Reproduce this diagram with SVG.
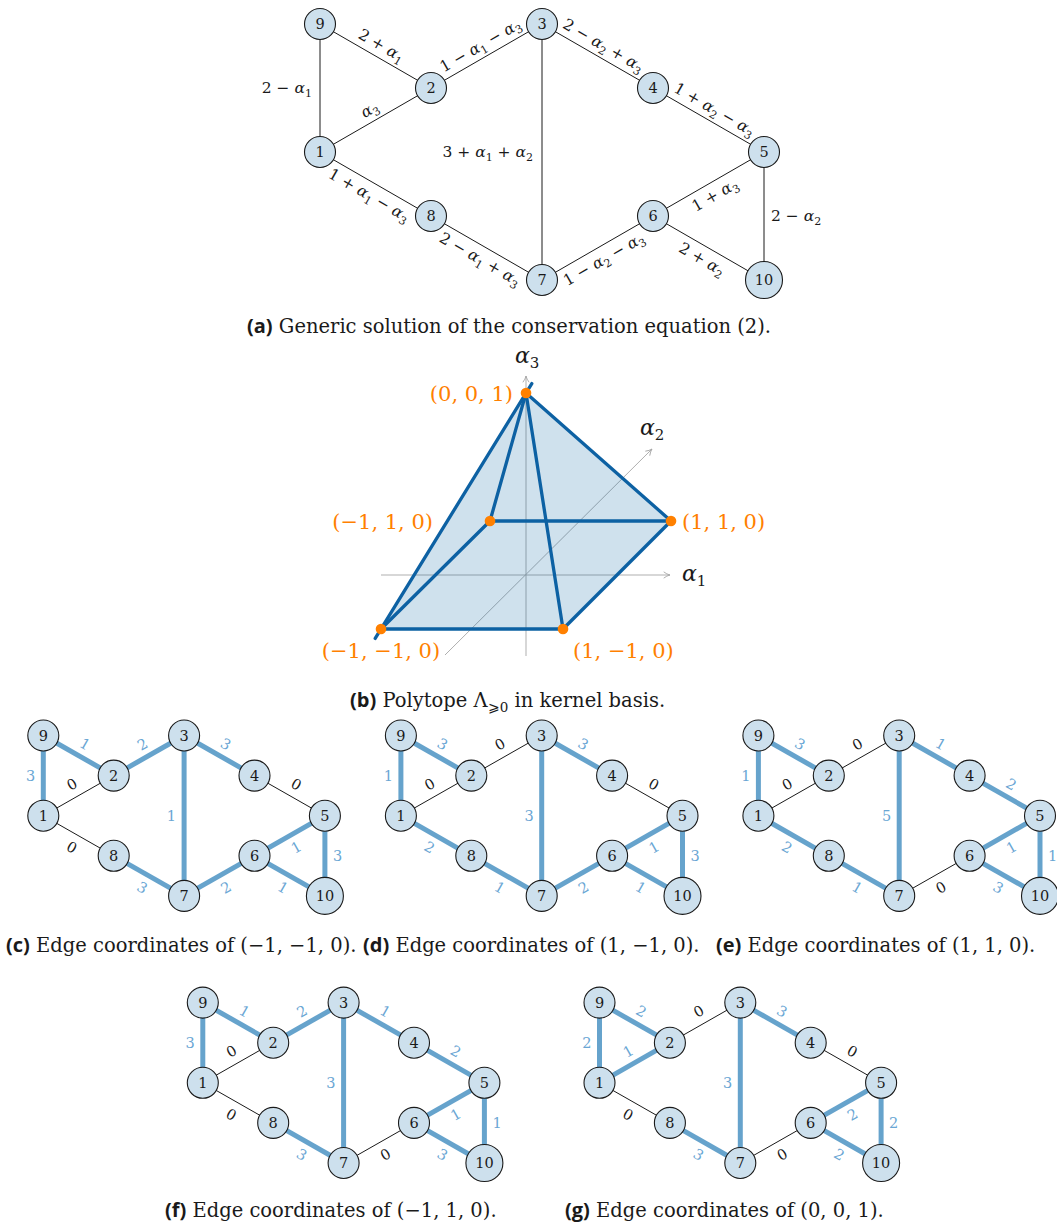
<svg xmlns="http://www.w3.org/2000/svg" width="1057" height="1225" viewBox="0 0 1057 1225" font-family="DejaVu Serif, Liberation Serif, serif">
<style>
text{font-family:"DejaVu Serif","Liberation Serif",serif}
.e{stroke:#1a1a1a;stroke-width:1;fill:none}
.t{stroke:#66a3cc;stroke-width:5;fill:none}
.n circle{fill:#cde0ed;stroke:#1a1a1a;stroke-width:1.1}
.n text{font-size:14.5px;text-anchor:middle;fill:#1a1a1a}
.la{font-size:15.5px;fill:#1a1a1a;text-anchor:middle}
.lb,.l0{font-size:14.5px;text-anchor:middle}
.lb{fill:#6aa6d4}
.l0{fill:#1a1a1a}
.it{font-style:italic}
.cap{font-size:19.5px;fill:#1a1a1a}
.cb{font-family:"Open Sans","DejaVu Sans",sans-serif;font-weight:700;font-size:20px}
.or{font-size:21px;fill:#ff8000}
.ax{font-size:22px;fill:#1a1a1a}
</style>
<defs>
<marker id="ar" viewBox="0 0 10 10" refX="9" refY="5" markerWidth="9" markerHeight="9" orient="auto" markerUnits="userSpaceOnUse">
<path d="M2,1.5 Q5.5,4.2 9,5 Q5.5,5.8 2,8.5" fill="none" stroke="#a6a6a6" stroke-width="1"/>
</marker>
</defs>

<!-- Panel (a) -->
<g id="panel-a" transform="translate(320,24)">
<g id="a-connectors">
<line class="e" x1="0" y1="0" x2="0" y2="128"/>
<line class="e" x1="0" y1="0" x2="111" y2="64"/>
<line class="e" x1="0" y1="128" x2="111" y2="64"/>
<line class="e" x1="111" y1="64" x2="222" y2="0"/>
<line class="e" x1="0" y1="128" x2="111" y2="192"/>
<line class="e" x1="111" y1="192" x2="222" y2="256"/>
<line class="e" x1="222" y1="0" x2="222" y2="256"/>
<line class="e" x1="222" y1="0" x2="333" y2="64"/>
<line class="e" x1="333" y1="64" x2="444" y2="128"/>
<line class="e" x1="333" y1="192" x2="444" y2="128"/>
<line class="e" x1="222" y1="256" x2="333" y2="192"/>
<line class="e" x1="444" y1="128" x2="444" y2="256"/>
<line class="e" x1="333" y1="192" x2="444" y2="256"/>
<text class="la" x="-8" y="69" style="text-anchor:end">2 − <tspan class="it">α</tspan><tspan dy="4" font-size="11">1</tspan></text>
<text class="la" transform="translate(55.5,32) rotate(29.97)" y="-7">2 + <tspan class="it">α</tspan><tspan dy="4" font-size="11">1</tspan></text>
<text class="la" transform="translate(55.5,96) rotate(-29.97)" y="-7"><tspan class="it">α</tspan><tspan dy="4" font-size="11">3</tspan></text>
<text class="la" transform="translate(166.5,32) rotate(-29.97)" y="-7">1 − <tspan class="it">α</tspan><tspan dy="4" font-size="11">1</tspan><tspan dy="-4"> − </tspan><tspan class="it">α</tspan><tspan dy="4" font-size="11">3</tspan></text>
<text class="la" transform="translate(55.5,160) rotate(29.97)" y="18">1 + <tspan class="it">α</tspan><tspan dy="4" font-size="11">1</tspan><tspan dy="-4"> − </tspan><tspan class="it">α</tspan><tspan dy="4" font-size="11">3</tspan></text>
<text class="la" transform="translate(166.5,224) rotate(29.97)" y="18">2 − <tspan class="it">α</tspan><tspan dy="4" font-size="11">1</tspan><tspan dy="-4"> + </tspan><tspan class="it">α</tspan><tspan dy="4" font-size="11">3</tspan></text>
<text class="la" x="213" y="133" style="text-anchor:end">3 + <tspan class="it">α</tspan><tspan dy="4" font-size="11">1</tspan><tspan dy="-4"> + </tspan><tspan class="it">α</tspan><tspan dy="4" font-size="11">2</tspan></text>
<text class="la" transform="translate(277.5,32) rotate(29.97)" y="-7">2 − <tspan class="it">α</tspan><tspan dy="4" font-size="11">2</tspan><tspan dy="-4"> + </tspan><tspan class="it">α</tspan><tspan dy="4" font-size="11">3</tspan></text>
<text class="la" transform="translate(388.5,96) rotate(29.97)" y="-7">1 + <tspan class="it">α</tspan><tspan dy="4" font-size="11">2</tspan><tspan dy="-4"> − </tspan><tspan class="it">α</tspan><tspan dy="4" font-size="11">3</tspan></text>
<text class="la" transform="translate(388.5,160) rotate(-29.97)" y="18">1 + <tspan class="it">α</tspan><tspan dy="4" font-size="11">3</tspan></text>
<text class="la" transform="translate(277.5,224) rotate(-29.97)" y="18">1 − <tspan class="it">α</tspan><tspan dy="4" font-size="11">2</tspan><tspan dy="-4"> − </tspan><tspan class="it">α</tspan><tspan dy="4" font-size="11">3</tspan></text>
<text class="la" x="451" y="197" style="text-anchor:start">2 − <tspan class="it">α</tspan><tspan dy="4" font-size="11">2</tspan></text>
<text class="la" transform="translate(388.5,224) rotate(29.97)" y="18">2 + <tspan class="it">α</tspan><tspan dy="4" font-size="11">2</tspan></text>
</g>
<g id="a-n9" class="n"><circle cx="0" cy="0" r="15.5"/><text x="0" y="5.3">9</text></g>
<g id="a-n1" class="n"><circle cx="0" cy="128" r="15.5"/><text x="0" y="133.3">1</text></g>
<g id="a-n2" class="n"><circle cx="111" cy="64" r="15.5"/><text x="111" y="69.3">2</text></g>
<g id="a-n8" class="n"><circle cx="111" cy="192" r="15.5"/><text x="111" y="197.3">8</text></g>
<g id="a-n3" class="n"><circle cx="222" cy="0" r="15.5"/><text x="222" y="5.3">3</text></g>
<g id="a-n7" class="n"><circle cx="222" cy="256" r="15.5"/><text x="222" y="261.3">7</text></g>
<g id="a-n4" class="n"><circle cx="333" cy="64" r="15.5"/><text x="333" y="69.3">4</text></g>
<g id="a-n6" class="n"><circle cx="333" cy="192" r="15.5"/><text x="333" y="197.3">6</text></g>
<g id="a-n5" class="n"><circle cx="444" cy="128" r="15.5"/><text x="444" y="133.3">5</text></g>
<g id="a-n10" class="n"><circle cx="444" cy="256" r="18.5"/><text x="444" y="261.3">10</text></g>
</g>
<text class="cap" x="247" y="333"><tspan class="cb">(a)</tspan> Generic solution of the conservation equation (2).</text>

<!-- Panel (b) -->
<g id="panel-b">
<g id="b-axes" stroke="#a6a6a6" stroke-width="0.9" fill="none">
<line x1="381" y1="575" x2="670" y2="575" marker-end="url(#ar)"/>
<line x1="445" y1="655" x2="652" y2="449" marker-end="url(#ar)"/>
<line x1="526" y1="656" x2="526" y2="376" marker-end="url(#ar)"/>
</g>
<polygon id="b-fill" points="526,393 671,521 563,629 381,629" fill="#0060a0" fill-opacity="0.19"/>
<g id="b-edges" stroke="#0d61a3" stroke-width="3.3" stroke-linecap="round" fill="none">
<line x1="375.2" y1="638.4" x2="531.8" y2="383.6"/>
<line x1="526" y1="393" x2="490" y2="521"/>
<line x1="526" y1="393" x2="563" y2="629"/>
<line x1="526" y1="393" x2="671" y2="521"/>
<line x1="490" y1="521" x2="671" y2="521"/>
<line x1="490" y1="521" x2="381" y2="629"/>
<line x1="381" y1="629" x2="563" y2="629"/>
<line x1="563" y1="629" x2="671" y2="521"/>
</g>
<g id="b-v001"><circle cx="526" cy="393" r="5.3" fill="#ff8000"/><text class="or" x="513" y="401" text-anchor="end">(0, 0, 1)</text></g>
<g id="b-vm110"><circle cx="490" cy="521" r="5.3" fill="#ff8000"/><text class="or" x="433" y="529" text-anchor="end">(−1, 1, 0)</text></g>
<g id="b-v110"><circle cx="671" cy="521" r="5.3" fill="#ff8000"/><text class="or" x="682" y="529">(1, 1, 0)</text></g>
<g id="b-vmm10"><circle cx="381" cy="629" r="5.3" fill="#ff8000"/><text class="or" x="381" y="658" text-anchor="middle">(−1, −1, 0)</text></g>
<g id="b-v1m10"><circle cx="563" cy="629" r="5.3" fill="#ff8000"/><text class="or" x="573" y="658">(1, −1, 0)</text></g>
<text class="ax" x="515" y="363"><tspan class="it">α</tspan><tspan dy="5" font-size="15">3</tspan></text>
<text class="ax" x="640" y="435"><tspan class="it">α</tspan><tspan dy="5" font-size="15">2</tspan></text>
<text class="ax" x="682" y="581"><tspan class="it">α</tspan><tspan dy="5" font-size="15">1</tspan></text>
</g>
<text class="cap" x="350" y="707"><tspan class="cb">(b)</tspan> Polytope Λ<tspan dy="5" font-size="13.5">⩾0</tspan><tspan dy="-5"> in kernel basis.</tspan></text>

<!-- Panel (c) -->
<g id="panel-c" transform="translate(43.3,735.5)">
<g id="c-connectors">
<line class="t" x1="0" y1="0" x2="0" y2="80.2"/>
<line class="t" x1="0" y1="0" x2="70.4" y2="40.1"/>
<line class="e" x1="0" y1="80.2" x2="70.4" y2="40.1"/>
<line class="t" x1="70.4" y1="40.1" x2="140.8" y2="0"/>
<line class="e" x1="0" y1="80.2" x2="70.4" y2="120.3"/>
<line class="t" x1="70.4" y1="120.3" x2="140.8" y2="160.4"/>
<line class="t" x1="140.8" y1="0" x2="140.8" y2="160.4"/>
<line class="t" x1="140.8" y1="0" x2="211.2" y2="40.1"/>
<line class="e" x1="211.2" y1="40.1" x2="281.6" y2="80.2"/>
<line class="t" x1="211.2" y1="120.3" x2="281.6" y2="80.2"/>
<line class="t" x1="140.8" y1="160.4" x2="211.2" y2="120.3"/>
<line class="t" x1="281.6" y1="80.2" x2="281.6" y2="160.4"/>
<line class="t" x1="211.2" y1="120.3" x2="281.6" y2="160.4"/>
<text class="lb" x="-8" y="45.5" style="text-anchor:end">3</text>
<text class="lb" transform="translate(35.2,20.05) rotate(29.67)" y="-8">1</text>
<text class="l0" transform="translate(35.2,60.15) rotate(-29.67)" y="-8">0</text>
<text class="lb" transform="translate(105.6,20.05) rotate(-29.67)" y="-8">2</text>
<text class="l0" transform="translate(35.2,100.25) rotate(29.67)" y="18.5">0</text>
<text class="lb" transform="translate(105.6,140.35) rotate(29.67)" y="18.5">3</text>
<text class="lb" x="132.8" y="85.7" style="text-anchor:end">1</text>
<text class="lb" transform="translate(176,20.05) rotate(29.67)" y="-8">3</text>
<text class="l0" transform="translate(246.4,60.15) rotate(29.67)" y="-8">0</text>
<text class="lb" transform="translate(246.4,100.25) rotate(-29.67)" y="18.5">1</text>
<text class="lb" transform="translate(176,140.35) rotate(-29.67)" y="18.5">2</text>
<text class="lb" x="289.6" y="125.8" style="text-anchor:start">3</text>
<text class="lb" transform="translate(246.4,140.35) rotate(29.67)" y="18.5">1</text>
</g>
<g id="c-n9" class="n"><circle cx="0" cy="0" r="15.5"/><text x="0" y="5.3">9</text></g>
<g id="c-n1" class="n"><circle cx="0" cy="80.2" r="15.5"/><text x="0" y="85.5">1</text></g>
<g id="c-n2" class="n"><circle cx="70.4" cy="40.1" r="15.5"/><text x="70.4" y="45.4">2</text></g>
<g id="c-n8" class="n"><circle cx="70.4" cy="120.3" r="15.5"/><text x="70.4" y="125.6">8</text></g>
<g id="c-n3" class="n"><circle cx="140.8" cy="0" r="15.5"/><text x="140.8" y="5.3">3</text></g>
<g id="c-n7" class="n"><circle cx="140.8" cy="160.4" r="15.5"/><text x="140.8" y="165.7">7</text></g>
<g id="c-n4" class="n"><circle cx="211.2" cy="40.1" r="15.5"/><text x="211.2" y="45.4">4</text></g>
<g id="c-n6" class="n"><circle cx="211.2" cy="120.3" r="15.5"/><text x="211.2" y="125.6">6</text></g>
<g id="c-n5" class="n"><circle cx="281.6" cy="80.2" r="15.5"/><text x="281.6" y="85.5">5</text></g>
<g id="c-n10" class="n"><circle cx="281.6" cy="160.4" r="18.5"/><text x="281.6" y="165.7">10</text></g>
</g>
<text class="cap" x="6" y="952"><tspan class="cb">(c)</tspan> Edge coordinates of (−1, −1, 0).</text>

<!-- Panel (d) -->
<g id="panel-d" transform="translate(400.9,735.5)">
<g id="d-connectors">
<line class="t" x1="0" y1="0" x2="0" y2="80.2"/>
<line class="t" x1="0" y1="0" x2="70.4" y2="40.1"/>
<line class="e" x1="0" y1="80.2" x2="70.4" y2="40.1"/>
<line class="e" x1="70.4" y1="40.1" x2="140.8" y2="0"/>
<line class="t" x1="0" y1="80.2" x2="70.4" y2="120.3"/>
<line class="t" x1="70.4" y1="120.3" x2="140.8" y2="160.4"/>
<line class="t" x1="140.8" y1="0" x2="140.8" y2="160.4"/>
<line class="t" x1="140.8" y1="0" x2="211.2" y2="40.1"/>
<line class="e" x1="211.2" y1="40.1" x2="281.6" y2="80.2"/>
<line class="t" x1="211.2" y1="120.3" x2="281.6" y2="80.2"/>
<line class="t" x1="140.8" y1="160.4" x2="211.2" y2="120.3"/>
<line class="t" x1="281.6" y1="80.2" x2="281.6" y2="160.4"/>
<line class="t" x1="211.2" y1="120.3" x2="281.6" y2="160.4"/>
<text class="lb" x="-8" y="45.5" style="text-anchor:end">1</text>
<text class="lb" transform="translate(35.2,20.05) rotate(29.67)" y="-8">3</text>
<text class="l0" transform="translate(35.2,60.15) rotate(-29.67)" y="-8">0</text>
<text class="l0" transform="translate(105.6,20.05) rotate(-29.67)" y="-8">0</text>
<text class="lb" transform="translate(35.2,100.25) rotate(29.67)" y="18.5">2</text>
<text class="lb" transform="translate(105.6,140.35) rotate(29.67)" y="18.5">1</text>
<text class="lb" x="132.8" y="85.7" style="text-anchor:end">3</text>
<text class="lb" transform="translate(176,20.05) rotate(29.67)" y="-8">3</text>
<text class="l0" transform="translate(246.4,60.15) rotate(29.67)" y="-8">0</text>
<text class="lb" transform="translate(246.4,100.25) rotate(-29.67)" y="18.5">1</text>
<text class="lb" transform="translate(176,140.35) rotate(-29.67)" y="18.5">2</text>
<text class="lb" x="289.6" y="125.8" style="text-anchor:start">3</text>
<text class="lb" transform="translate(246.4,140.35) rotate(29.67)" y="18.5">1</text>
</g>
<g id="d-n9" class="n"><circle cx="0" cy="0" r="15.5"/><text x="0" y="5.3">9</text></g>
<g id="d-n1" class="n"><circle cx="0" cy="80.2" r="15.5"/><text x="0" y="85.5">1</text></g>
<g id="d-n2" class="n"><circle cx="70.4" cy="40.1" r="15.5"/><text x="70.4" y="45.4">2</text></g>
<g id="d-n8" class="n"><circle cx="70.4" cy="120.3" r="15.5"/><text x="70.4" y="125.6">8</text></g>
<g id="d-n3" class="n"><circle cx="140.8" cy="0" r="15.5"/><text x="140.8" y="5.3">3</text></g>
<g id="d-n7" class="n"><circle cx="140.8" cy="160.4" r="15.5"/><text x="140.8" y="165.7">7</text></g>
<g id="d-n4" class="n"><circle cx="211.2" cy="40.1" r="15.5"/><text x="211.2" y="45.4">4</text></g>
<g id="d-n6" class="n"><circle cx="211.2" cy="120.3" r="15.5"/><text x="211.2" y="125.6">6</text></g>
<g id="d-n5" class="n"><circle cx="281.6" cy="80.2" r="15.5"/><text x="281.6" y="85.5">5</text></g>
<g id="d-n10" class="n"><circle cx="281.6" cy="160.4" r="18.5"/><text x="281.6" y="165.7">10</text></g>
</g>
<text class="cap" x="363" y="952"><tspan class="cb">(d)</tspan> Edge coordinates of (1, −1, 0).</text>

<!-- Panel (e) -->
<g id="panel-e" transform="translate(758.4,735.5)">
<g id="e-connectors">
<line class="t" x1="0" y1="0" x2="0" y2="80.2"/>
<line class="t" x1="0" y1="0" x2="70.4" y2="40.1"/>
<line class="e" x1="0" y1="80.2" x2="70.4" y2="40.1"/>
<line class="e" x1="70.4" y1="40.1" x2="140.8" y2="0"/>
<line class="t" x1="0" y1="80.2" x2="70.4" y2="120.3"/>
<line class="t" x1="70.4" y1="120.3" x2="140.8" y2="160.4"/>
<line class="t" x1="140.8" y1="0" x2="140.8" y2="160.4"/>
<line class="t" x1="140.8" y1="0" x2="211.2" y2="40.1"/>
<line class="t" x1="211.2" y1="40.1" x2="281.6" y2="80.2"/>
<line class="t" x1="211.2" y1="120.3" x2="281.6" y2="80.2"/>
<line class="e" x1="140.8" y1="160.4" x2="211.2" y2="120.3"/>
<line class="t" x1="281.6" y1="80.2" x2="281.6" y2="160.4"/>
<line class="t" x1="211.2" y1="120.3" x2="281.6" y2="160.4"/>
<text class="lb" x="-8" y="45.5" style="text-anchor:end">1</text>
<text class="lb" transform="translate(35.2,20.05) rotate(29.67)" y="-8">3</text>
<text class="l0" transform="translate(35.2,60.15) rotate(-29.67)" y="-8">0</text>
<text class="l0" transform="translate(105.6,20.05) rotate(-29.67)" y="-8">0</text>
<text class="lb" transform="translate(35.2,100.25) rotate(29.67)" y="18.5">2</text>
<text class="lb" transform="translate(105.6,140.35) rotate(29.67)" y="18.5">1</text>
<text class="lb" x="132.8" y="85.7" style="text-anchor:end">5</text>
<text class="lb" transform="translate(176,20.05) rotate(29.67)" y="-8">1</text>
<text class="lb" transform="translate(246.4,60.15) rotate(29.67)" y="-8">2</text>
<text class="lb" transform="translate(246.4,100.25) rotate(-29.67)" y="18.5">1</text>
<text class="l0" transform="translate(176,140.35) rotate(-29.67)" y="18.5">0</text>
<text class="lb" x="289.6" y="125.8" style="text-anchor:start">1</text>
<text class="lb" transform="translate(246.4,140.35) rotate(29.67)" y="18.5">3</text>
</g>
<g id="e-n9" class="n"><circle cx="0" cy="0" r="15.5"/><text x="0" y="5.3">9</text></g>
<g id="e-n1" class="n"><circle cx="0" cy="80.2" r="15.5"/><text x="0" y="85.5">1</text></g>
<g id="e-n2" class="n"><circle cx="70.4" cy="40.1" r="15.5"/><text x="70.4" y="45.4">2</text></g>
<g id="e-n8" class="n"><circle cx="70.4" cy="120.3" r="15.5"/><text x="70.4" y="125.6">8</text></g>
<g id="e-n3" class="n"><circle cx="140.8" cy="0" r="15.5"/><text x="140.8" y="5.3">3</text></g>
<g id="e-n7" class="n"><circle cx="140.8" cy="160.4" r="15.5"/><text x="140.8" y="165.7">7</text></g>
<g id="e-n4" class="n"><circle cx="211.2" cy="40.1" r="15.5"/><text x="211.2" y="45.4">4</text></g>
<g id="e-n6" class="n"><circle cx="211.2" cy="120.3" r="15.5"/><text x="211.2" y="125.6">6</text></g>
<g id="e-n5" class="n"><circle cx="281.6" cy="80.2" r="15.5"/><text x="281.6" y="85.5">5</text></g>
<g id="e-n10" class="n"><circle cx="281.6" cy="160.4" r="18.5"/><text x="281.6" y="165.7">10</text></g>
</g>
<text class="cap" x="716" y="952"><tspan class="cb">(e)</tspan> Edge coordinates of (1, 1, 0).</text>

<!-- Panel (f) -->
<g id="panel-f" transform="translate(202.8,1002.6)">
<g id="f-connectors">
<line class="t" x1="0" y1="0" x2="0" y2="80.2"/>
<line class="t" x1="0" y1="0" x2="70.4" y2="40.1"/>
<line class="e" x1="0" y1="80.2" x2="70.4" y2="40.1"/>
<line class="t" x1="70.4" y1="40.1" x2="140.8" y2="0"/>
<line class="e" x1="0" y1="80.2" x2="70.4" y2="120.3"/>
<line class="t" x1="70.4" y1="120.3" x2="140.8" y2="160.4"/>
<line class="t" x1="140.8" y1="0" x2="140.8" y2="160.4"/>
<line class="t" x1="140.8" y1="0" x2="211.2" y2="40.1"/>
<line class="t" x1="211.2" y1="40.1" x2="281.6" y2="80.2"/>
<line class="t" x1="211.2" y1="120.3" x2="281.6" y2="80.2"/>
<line class="e" x1="140.8" y1="160.4" x2="211.2" y2="120.3"/>
<line class="t" x1="281.6" y1="80.2" x2="281.6" y2="160.4"/>
<line class="t" x1="211.2" y1="120.3" x2="281.6" y2="160.4"/>
<text class="lb" x="-8" y="45.5" style="text-anchor:end">3</text>
<text class="lb" transform="translate(35.2,20.05) rotate(29.67)" y="-8">1</text>
<text class="l0" transform="translate(35.2,60.15) rotate(-29.67)" y="-8">0</text>
<text class="lb" transform="translate(105.6,20.05) rotate(-29.67)" y="-8">2</text>
<text class="l0" transform="translate(35.2,100.25) rotate(29.67)" y="18.5">0</text>
<text class="lb" transform="translate(105.6,140.35) rotate(29.67)" y="18.5">3</text>
<text class="lb" x="132.8" y="85.7" style="text-anchor:end">3</text>
<text class="lb" transform="translate(176,20.05) rotate(29.67)" y="-8">1</text>
<text class="lb" transform="translate(246.4,60.15) rotate(29.67)" y="-8">2</text>
<text class="lb" transform="translate(246.4,100.25) rotate(-29.67)" y="18.5">1</text>
<text class="l0" transform="translate(176,140.35) rotate(-29.67)" y="18.5">0</text>
<text class="lb" x="289.6" y="125.8" style="text-anchor:start">1</text>
<text class="lb" transform="translate(246.4,140.35) rotate(29.67)" y="18.5">3</text>
</g>
<g id="f-n9" class="n"><circle cx="0" cy="0" r="15.5"/><text x="0" y="5.3">9</text></g>
<g id="f-n1" class="n"><circle cx="0" cy="80.2" r="15.5"/><text x="0" y="85.5">1</text></g>
<g id="f-n2" class="n"><circle cx="70.4" cy="40.1" r="15.5"/><text x="70.4" y="45.4">2</text></g>
<g id="f-n8" class="n"><circle cx="70.4" cy="120.3" r="15.5"/><text x="70.4" y="125.6">8</text></g>
<g id="f-n3" class="n"><circle cx="140.8" cy="0" r="15.5"/><text x="140.8" y="5.3">3</text></g>
<g id="f-n7" class="n"><circle cx="140.8" cy="160.4" r="15.5"/><text x="140.8" y="165.7">7</text></g>
<g id="f-n4" class="n"><circle cx="211.2" cy="40.1" r="15.5"/><text x="211.2" y="45.4">4</text></g>
<g id="f-n6" class="n"><circle cx="211.2" cy="120.3" r="15.5"/><text x="211.2" y="125.6">6</text></g>
<g id="f-n5" class="n"><circle cx="281.6" cy="80.2" r="15.5"/><text x="281.6" y="85.5">5</text></g>
<g id="f-n10" class="n"><circle cx="281.6" cy="160.4" r="18.5"/><text x="281.6" y="165.7">10</text></g>
</g>
<text class="cap" x="165" y="1217"><tspan class="cb">(f)</tspan> Edge coordinates of (−1, 1, 0).</text>

<!-- Panel (g) -->
<g id="panel-g" transform="translate(599.5,1002.6)">
<g id="g-connectors">
<line class="t" x1="0" y1="0" x2="0" y2="80.2"/>
<line class="t" x1="0" y1="0" x2="70.4" y2="40.1"/>
<line class="t" x1="0" y1="80.2" x2="70.4" y2="40.1"/>
<line class="e" x1="70.4" y1="40.1" x2="140.8" y2="0"/>
<line class="e" x1="0" y1="80.2" x2="70.4" y2="120.3"/>
<line class="t" x1="70.4" y1="120.3" x2="140.8" y2="160.4"/>
<line class="t" x1="140.8" y1="0" x2="140.8" y2="160.4"/>
<line class="t" x1="140.8" y1="0" x2="211.2" y2="40.1"/>
<line class="e" x1="211.2" y1="40.1" x2="281.6" y2="80.2"/>
<line class="t" x1="211.2" y1="120.3" x2="281.6" y2="80.2"/>
<line class="e" x1="140.8" y1="160.4" x2="211.2" y2="120.3"/>
<line class="t" x1="281.6" y1="80.2" x2="281.6" y2="160.4"/>
<line class="t" x1="211.2" y1="120.3" x2="281.6" y2="160.4"/>
<text class="lb" x="-8" y="45.5" style="text-anchor:end">2</text>
<text class="lb" transform="translate(35.2,20.05) rotate(29.67)" y="-8">2</text>
<text class="lb" transform="translate(35.2,60.15) rotate(-29.67)" y="-8">1</text>
<text class="l0" transform="translate(105.6,20.05) rotate(-29.67)" y="-8">0</text>
<text class="l0" transform="translate(35.2,100.25) rotate(29.67)" y="18.5">0</text>
<text class="lb" transform="translate(105.6,140.35) rotate(29.67)" y="18.5">3</text>
<text class="lb" x="132.8" y="85.7" style="text-anchor:end">3</text>
<text class="lb" transform="translate(176,20.05) rotate(29.67)" y="-8">3</text>
<text class="l0" transform="translate(246.4,60.15) rotate(29.67)" y="-8">0</text>
<text class="lb" transform="translate(246.4,100.25) rotate(-29.67)" y="18.5">2</text>
<text class="l0" transform="translate(176,140.35) rotate(-29.67)" y="18.5">0</text>
<text class="lb" x="289.6" y="125.8" style="text-anchor:start">2</text>
<text class="lb" transform="translate(246.4,140.35) rotate(29.67)" y="18.5">2</text>
</g>
<g id="g-n9" class="n"><circle cx="0" cy="0" r="15.5"/><text x="0" y="5.3">9</text></g>
<g id="g-n1" class="n"><circle cx="0" cy="80.2" r="15.5"/><text x="0" y="85.5">1</text></g>
<g id="g-n2" class="n"><circle cx="70.4" cy="40.1" r="15.5"/><text x="70.4" y="45.4">2</text></g>
<g id="g-n8" class="n"><circle cx="70.4" cy="120.3" r="15.5"/><text x="70.4" y="125.6">8</text></g>
<g id="g-n3" class="n"><circle cx="140.8" cy="0" r="15.5"/><text x="140.8" y="5.3">3</text></g>
<g id="g-n7" class="n"><circle cx="140.8" cy="160.4" r="15.5"/><text x="140.8" y="165.7">7</text></g>
<g id="g-n4" class="n"><circle cx="211.2" cy="40.1" r="15.5"/><text x="211.2" y="45.4">4</text></g>
<g id="g-n6" class="n"><circle cx="211.2" cy="120.3" r="15.5"/><text x="211.2" y="125.6">6</text></g>
<g id="g-n5" class="n"><circle cx="281.6" cy="80.2" r="15.5"/><text x="281.6" y="85.5">5</text></g>
<g id="g-n10" class="n"><circle cx="281.6" cy="160.4" r="18.5"/><text x="281.6" y="165.7">10</text></g>
</g>
<text class="cap" x="565" y="1217"><tspan class="cb">(g)</tspan> Edge coordinates of (0, 0, 1).</text>
</svg>
